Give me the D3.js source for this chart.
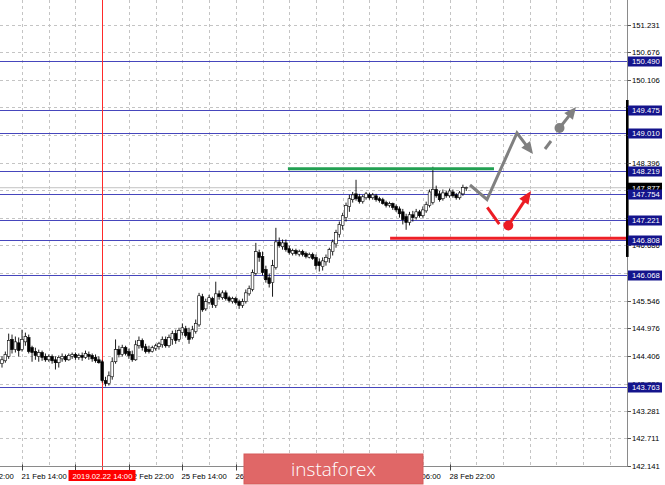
<!DOCTYPE html>
<html><head><meta charset="utf-8">
<script src="https://cdn.jsdelivr.net/npm/d3@7"></script>
<style>
body{margin:0;background:#fff;}
svg{display:block;}
text{font-family:"Liberation Sans",Arial,sans-serif;}
</style>
</head><body>
<svg id="c" width="665" height="485"></svg>
<script>
// ---- DATA ----
const opens = [144.25,144.31,144.40,144.75,144.54,144.68,144.54,144.70,144.79,144.58,
144.50,144.40,144.48,144.40,144.33,144.40,144.33,144.27,144.35,144.40,
144.33,144.40,144.44,144.38,144.42,144.38,144.44,144.42,144.38,144.33,
144.29,143.90,143.84,143.98,144.29,144.54,144.44,144.58,144.50,144.44,
144.33,144.62,144.73,144.60,144.54,144.50,144.56,144.60,144.64,144.75,
144.62,144.75,144.87,144.75,144.89,144.97,144.89,144.79,144.91,145.05,
145.63,145.38,145.51,145.59,145.45,145.69,145.61,145.71,145.61,145.53,
145.59,145.53,145.45,145.53,145.69,145.78,146.11,146.54,146.46,146.19,
146.02,145.92,146.23,146.76,146.66,146.74,146.62,146.52,146.58,146.50,
146.56,146.52,146.44,146.50,146.44,146.35,146.25,146.35,146.42,146.56,
146.72,146.91,147.10,147.26,147.49,147.63,147.75,147.69,147.59,147.67,
147.73,147.67,147.71,147.65,147.63,147.57,147.51,147.55,147.49,147.44,
147.38,147.28,147.16,147.32,147.26,147.38,147.30,147.40,147.51,147.57,
147.84,147.75,147.65,147.77,147.71,147.79,147.73,147.67,147.75,147.86];
const highs = [144.40,144.50,144.87,144.85,144.81,144.79,144.95,144.89,144.85,144.62,
144.58,144.54,144.52,144.46,144.44,144.44,144.40,144.42,144.46,144.44,
144.46,144.48,144.48,144.46,144.48,144.52,144.50,144.46,144.44,144.40,
144.33,143.98,144.09,144.38,144.75,144.62,144.64,144.62,144.56,144.52,
144.73,144.81,144.77,144.66,144.62,144.62,144.66,144.70,144.81,144.81,
144.85,144.93,144.95,144.99,145.08,145.03,144.99,145.03,145.16,145.71,
145.69,145.59,145.67,145.63,145.94,145.76,145.76,145.76,145.65,145.63,
145.63,145.57,145.59,145.78,145.86,146.19,146.74,146.60,146.56,146.27,
146.11,146.39,147.05,146.85,146.81,146.81,146.68,146.62,146.62,146.60,
146.60,146.56,146.54,146.54,146.50,146.42,146.44,146.50,146.64,146.81,
147.01,147.18,147.36,147.57,147.73,147.79,148.04,147.75,147.73,147.79,
147.77,147.77,147.75,147.69,147.67,147.61,147.59,147.57,147.53,147.49,
147.44,147.34,147.38,147.40,147.44,147.42,147.49,147.59,147.84,148.31,
147.92,147.81,147.84,147.81,147.86,147.84,147.77,147.81,147.94,147.90];
const lows = [144.17,144.27,144.35,144.46,144.48,144.40,144.50,144.62,144.46,144.29,
144.33,144.29,144.31,144.29,144.29,144.25,144.13,144.17,144.29,144.29,
144.31,144.35,144.33,144.33,144.31,144.35,144.33,144.29,144.27,144.25,
143.86,143.78,143.80,143.92,144.25,144.38,144.40,144.42,144.35,144.29,
144.31,144.56,144.52,144.46,144.46,144.48,144.52,144.54,144.58,144.58,
144.58,144.64,144.66,144.70,144.83,144.79,144.66,144.75,144.87,145.01,
145.32,145.34,145.47,145.40,145.40,145.57,145.57,145.55,145.51,145.49,
145.47,145.38,145.40,145.49,145.65,145.74,146.07,146.35,146.07,145.92,
145.82,145.63,146.19,146.64,146.60,146.56,146.50,146.48,146.48,146.46,
146.46,146.42,146.42,146.39,146.19,146.15,146.17,146.27,146.33,146.48,
146.64,146.85,147.01,147.18,147.38,147.57,147.61,147.55,147.55,147.63,
147.63,147.63,147.59,147.57,147.53,147.47,147.47,147.42,147.38,147.26,
147.12,147.01,147.10,147.18,147.22,147.26,147.26,147.36,147.47,147.53,
147.67,147.59,147.61,147.67,147.67,147.67,147.63,147.63,147.71,147.81];
const closes = [144.33,144.44,144.73,144.54,144.70,144.52,144.75,144.81,144.50,144.48,
144.42,144.48,144.38,144.33,144.40,144.31,144.27,144.38,144.40,144.33,
144.42,144.44,144.38,144.42,144.38,144.46,144.40,144.35,144.31,144.27,
143.90,143.84,144.00,144.29,144.54,144.44,144.58,144.46,144.42,144.33,
144.64,144.73,144.58,144.50,144.50,144.58,144.62,144.66,144.75,144.62,
144.79,144.87,144.73,144.93,144.99,144.83,144.75,144.95,145.08,145.65,
145.36,145.53,145.61,145.47,145.69,145.63,145.71,145.59,145.55,145.59,
145.51,145.45,145.53,145.71,145.80,146.13,146.56,146.44,146.13,145.98,
145.90,146.27,146.76,146.68,146.74,146.60,146.54,146.58,146.52,146.56,
146.50,146.46,146.50,146.42,146.27,146.27,146.37,146.44,146.60,146.76,
146.95,147.12,147.30,147.51,147.65,147.73,147.65,147.59,147.69,147.75,
147.67,147.73,147.63,147.61,147.55,147.51,147.55,147.47,147.42,147.34,
147.22,147.16,147.32,147.26,147.38,147.30,147.42,147.53,147.79,147.84,
147.71,147.63,147.77,147.71,147.81,147.71,147.67,147.77,147.88,147.88];

const levels = [150.490, 149.475, 149.010, 148.219, 147.754, 147.221, 146.808, 146.068, 143.763];
const levelLabels = ["150.490","149.475","149.010","148.219","147.754","147.221","146.808","146.068","143.763"];

const priceTicks = [142.141,142.711,143.281,143.836,144.406,144.976,145.546,146.116,146.686,147.256,147.826,148.396,148.966,149.536,150.106,150.676,151.231];
const priceTickLabels = ["142.141","142.711","143.281","143.836","144.406","144.976","145.546","","146.686","","147.826","148.396","148.966","","150.106","150.676","151.231"];

const timeTickIdx = [-10, 6, 22, 38, 54, 70, 86, 102, 118, 134];
const timeTickLabels = ["20 Feb 22:00","21 Feb 14:00","","22 Feb 22:00","25 Feb 14:00","26 Feb 06:00","","","28 Feb 06:00","28 Feb 22:00"];

const bidPrice = 147.877, bidLabel = "147.877";
const markerIdx = 30, markerLabel = "2019.02.22 14:00";
const greenLine = [[85.6, 148.27], [147.3, 148.27]];
const redLine = [[116.2, 146.835], [186.9, 146.835]];
const grayPath = [[140.12, 147.933], [145.21, 147.634], [154.19, 149.005], [158.98, 148.572]];
const grayDash = [[162.57, 148.675], [164.37, 148.840]];
const grayDot = [166.92, 149.108];
const grayTip = [171.86, 149.541];
const redDash = [[145.30, 147.474], [148.89, 147.129]];
const redDot = [151.59, 147.098];
const redTip = [158.38, 147.810];
const rangeBar = [149.685, 146.45];

// ---- SCALES ----
const plotR = 627.5, plotB = 466.5;
const x = d3.scaleLinear().domain([0, 100]).range([2, 336]);
const y = d3.scaleLinear().domain([142.141, 151.231]).range([466, 25]);
const svg = d3.select("#c");
const bars = opens.map((o, i) => ({i, o, h: highs[i], l: lows[i], c: closes[i]}));

// grid
const grid = svg.append("g").attr("stroke", "#c4c4c4").attr("stroke-dasharray", "3,3").attr("stroke-width", 1);
d3.range(-2, 188, 8).forEach(k => {
  const xx = Math.round(x(k)) + 0.5;
  if (xx > 0 && xx < plotR) grid.append("line").attr("x1", xx).attr("x2", xx).attr("y1", 0).attr("y2", plotB);
});
priceTicks.forEach(p => {
  const yy = Math.round(y(p)) + 0.5;
  if (yy < plotB - 1) grid.append("line").attr("x1", 0).attr("x2", plotR).attr("y1", yy).attr("y2", yy);
});

// bid line
svg.append("line").attr("x1", 0).attr("x2", plotR).attr("y1", y(bidPrice)).attr("y2", y(bidPrice))
  .attr("stroke", "#c2c2c2").attr("stroke-width", 1);

// level lines
svg.append("g").selectAll("line").data(levels).join("line")
  .attr("x1", 0).attr("x2", plotR)
  .attr("y1", d => Math.round(y(d)) + 0.5).attr("y2", d => Math.round(y(d)) + 0.5)
  .attr("stroke", "#4646bc").attr("stroke-width", 1);

// vertical marker
const mx = Math.round(x(markerIdx)) + 0.5;
svg.append("line").attr("x1", mx).attr("x2", mx).attr("y1", 0).attr("y2", 471)
  .attr("stroke", "#ff2a2a").attr("stroke-width", 1);

// candles
const cg = svg.append("g");
const bw = 2.7;
cg.selectAll("line.w").data(bars).join("line")
  .attr("x1", d => x(d.i)).attr("x2", d => x(d.i))
  .attr("y1", d => y(d.h)).attr("y2", d => y(d.l))
  .attr("stroke", "#000").attr("stroke-width", 0.9);
cg.selectAll("rect").data(bars).join("rect")
  .attr("x", d => x(d.i) - bw / 2)
  .attr("width", bw)
  .attr("y", d => y(Math.max(d.o, d.c)))
  .attr("height", d => Math.max(0.8, Math.abs(y(d.o) - y(d.c))))
  .attr("fill", d => d.c >= d.o ? "#fff" : "#000")
  .attr("stroke", "#000").attr("stroke-width", 0.6);

// green and red levels
const line = d3.line().x(d => x(d[0])).y(d => y(d[1]));
svg.append("path").attr("d", line(greenLine)).attr("stroke", "#22a052").attr("stroke-width", 3).attr("fill", "none");
svg.append("path").attr("d", line(redLine)).attr("stroke", "#ee2028").attr("stroke-width", 3).attr("fill", "none");

// arrows
function arrowHead(g, from, tip, color, len, hw) {
  const fx = x(from[0]), fy = y(from[1]), tx = x(tip[0]), ty = y(tip[1]);
  const dx = tx - fx, dy = ty - fy, L = Math.hypot(dx, dy);
  const ux = dx / L, uy = dy / L;
  const bx = tx - ux * len, by = ty - uy * len;
  g.append("path").attr("d", `M${tx},${ty}L${bx - uy * hw},${by + ux * hw}L${bx + uy * hw},${by - ux * hw}Z`).attr("fill", color);
  return [bx + ux * 2, by + uy * 2];
}
const ag = svg.append("g");
{
  const pts = grayPath.map(d => [x(d[0]), y(d[1])]);
  const base = arrowHead(ag, grayPath[2], grayPath[3], "#808080", 12, 5.5);
  pts[pts.length - 1] = base;
  ag.append("path").attr("d", d3.line()(pts)).attr("stroke", "#808080").attr("stroke-width", 3).attr("fill", "none");
}
ag.append("path").attr("d", line(grayDash)).attr("stroke", "#808080").attr("stroke-width", 3).attr("fill", "none");
{
  const base = arrowHead(ag, grayDot, grayTip, "#808080", 12, 5.5);
  ag.append("line").attr("x1", x(grayDot[0])).attr("y1", y(grayDot[1])).attr("x2", base[0]).attr("y2", base[1]).attr("stroke", "#808080").attr("stroke-width", 3);
  ag.append("circle").attr("cx", x(grayDot[0])).attr("cy", y(grayDot[1])).attr("r", 5).attr("fill", "#808080");
}
ag.append("path").attr("d", line(redDash)).attr("stroke", "#ec1c24").attr("stroke-width", 3).attr("fill", "none");
{
  const base = arrowHead(ag, redDot, redTip, "#ec1c24", 13, 5.5);
  ag.append("line").attr("x1", x(redDot[0])).attr("y1", y(redDot[1])).attr("x2", base[0]).attr("y2", base[1]).attr("stroke", "#ec1c24").attr("stroke-width", 3);
  ag.append("circle").attr("cx", x(redDot[0])).attr("cy", y(redDot[1])).attr("r", 5).attr("fill", "#ec1c24");
}

// axes frame
svg.append("line").attr("x1", plotR).attr("x2", plotR).attr("y1", 0).attr("y2", plotB).attr("stroke", "#8a8a8a");
svg.append("line").attr("x1", 0).attr("x2", plotR).attr("y1", plotB).attr("y2", plotB).attr("stroke", "#8a8a8a");
svg.append("rect").attr("x", 626).attr("width", 2.6).attr("y", y(rangeBar[0])).attr("height", y(rangeBar[1]) - y(rangeBar[0])).attr("fill", "#000");

// right axis ticks
const ra = svg.append("g");
priceTicks.forEach((p, k) => {
  const yy = Math.round(y(p)) + 0.5;
  ra.append("line").attr("x1", plotR).attr("x2", plotR + 3.5).attr("y1", yy).attr("y2", yy).attr("stroke", "#555");
  if (priceTickLabels[k]) ra.append("text").attr("x", 632).attr("y", yy + 2.8).attr("font-size", 7.7).attr("fill", "#000").text(priceTickLabels[k]);
});
ra.append("rect").attr("x", 628).attr("y", y(bidPrice) - 5).attr("width", 34).attr("height", 10).attr("fill", "#000");
ra.append("text").attr("x", 632).attr("y", y(bidPrice) + 2.8).attr("font-size", 7.7).attr("fill", "#fff").text(bidLabel);
levels.forEach((p, k) => {
  const yy = Math.round(y(p)) + 0.5;
  ra.append("rect").attr("x", 628).attr("y", yy - 5).attr("width", 34).attr("height", 10).attr("fill", "#14148c");
  ra.append("text").attr("x", 632).attr("y", yy + 2.8).attr("font-size", 7.7).attr("fill", "#fff").text(levelLabels[k]);
});

// time axis
const ta = svg.append("g");
timeTickIdx.forEach((ix, k) => {
  const xx = Math.round(x(ix)) + 0.5;
  ta.append("line").attr("x1", xx).attr("x2", xx).attr("y1", plotB - 2).attr("y2", plotB + 4).attr("stroke", "#444");
  if (timeTickLabels[k]) ta.append("text").attr("x", xx - 1).attr("y", 479).attr("font-size", 7.7).attr("fill", "#000").text(timeTickLabels[k]);
});
ta.append("rect").attr("x", mx - 34).attr("y", 470).attr("width", 67).attr("height", 11).attr("fill", "#ff0000");
ta.append("text").attr("x", mx).attr("y", 479).attr("text-anchor", "middle").attr("font-size", 7.7).attr("fill", "#fff").text(markerLabel);

// logo
svg.append("rect").attr("x", 244).attr("y", 454).attr("width", 179).attr("height", 30).attr("fill", "#e06767").attr("stroke", "#d65a5a").attr("stroke-width", 1);
svg.append("text").attr("x", 333.5).attr("y", 475.5).attr("text-anchor", "middle")
  .style("font-family", "'Open Sans', 'Noto Sans', sans-serif").style("font-weight", 300)
  .attr("font-size", 19).attr("fill", "#fff").text("instaforex");
</script>
</body></html>
